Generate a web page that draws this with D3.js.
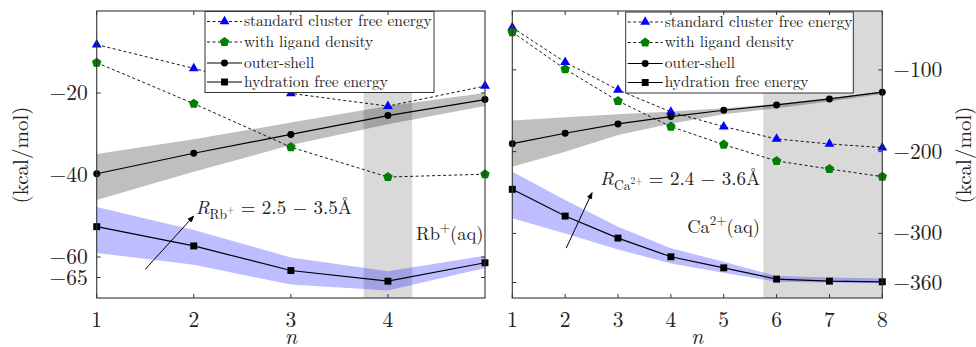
<!DOCTYPE html>
<html><head><meta charset="utf-8">
<script src="https://cdn.jsdelivr.net/npm/d3@7"></script>
<style>body{margin:0;background:#fff}svg{display:block}</style>
</head><body>
<script>
// ---------- Rb+ panel data ----------
const nRb = [1, 2, 3, 4, 5];
const rbXTicks = [1, 2, 3, 4];
const rbYTicks = [-20, -40, -60, -65];
const rbStandard = [-8.2, -14.0, -20.1, -23.2, -18.3];
const rbLigand = [-12.6, -22.6, -33.2, -40.5, -39.8];
const rbOuter = [-39.7, -34.7, -30.1, -25.5, -21.6];
const rbOuterHi = [-34.9, -31.3, -27.2, -23.2, -20.0];
const rbOuterLo = [-46.1, -39.2, -32.7, -27.6, -23.2];
const rbHydration = [-52.6, -57.3, -63.3, -65.9, -61.4];
const rbHydHi = [-47.8, -53.4, -60.1, -63.5, -59.7];
const rbHydLo = [-59.0, -61.9, -66.7, -68.2, -62.7];
const rbShade = [3.75, 4.25];

// ---------- Ca2+ panel data ----------
const nCa = [1, 2, 3, 4, 5, 6, 7, 8];
const caXTicks = [1, 2, 3, 4, 5, 6, 7, 8];
const caYTicks = [-100, -200, -300, -360];
const caStandard = [-48.2, -90.6, -124.5, -151.4, -169.4, -184.5, -190.6, -195.1];
const caLigand = [-53.8, -99.1, -138.0, -169.4, -191.4, -211.4, -221.2, -230.6];
const caOuter = [-190.2, -177.5, -166.1, -157.1, -149.4, -142.9, -135.5, -127.3];
const caOuterHi = [-162.0, -158.0, -154.3, -151.0, -147.0, -141.6, -135.0, -126.5];
const caOuterLo = [-218.4, -200.0, -179.6, -166.0, -154.3, -147.0, -138.8, -129.4];
const caHydration = [-246.1, -278.8, -305.7, -328.6, -342.1, -355.9, -358.4, -359.2];
const caHydHi = [-224.5, -259.0, -291.9, -318.3, -334.7, -352.2, -353.8, -355.0];
const caHydLo = [-281.6, -300.0, -319.6, -336.7, -348.2, -359.2, -360.0, -361.0];
const caShade = [5.75, 8];

const legendLabels = ["standard cluster free energy", "with ligand density", "outer-shell", "hydration free energy"];

const FONT = "'Latin Modern Roman'";
const svg = d3.select("body").append("svg").attr("width", 976).attr("height", 347);

function pentagon(r) {
  const pts = d3.range(5).map(i => {
    const a = -Math.PI / 2 + i * 2 * Math.PI / 5;
    return [r * Math.cos(a), r * Math.sin(a)];
  });
  return "M" + pts.map(p => p.join(",")).join("L") + "Z";
}
function markerPath(type) {
  if (type === "tri") return d3.symbol(d3.symbolTriangle, 42)();
  if (type === "pent") return pentagon(5);
  if (type === "circ") return d3.symbol(d3.symbolCircle, 38)();
  return d3.symbol(d3.symbolSquare, 48)();
}

svg.append("defs").append("marker").attr("id", "arrow")
  .attr("viewBox", "0 0 10 10").attr("refX", 9).attr("refY", 5)
  .attr("markerWidth", 7).attr("markerHeight", 7).attr("markerUnits", "userSpaceOnUse")
  .attr("orient", "auto")
  .append("path").attr("d", "M0,1 L10,5 L0,9 Z").attr("fill", "#000");

function txt(sel) { return sel.style("font-family", FONT).attr("fill", "#222"); }

function panel(cfg) {
  const x = d3.scaleLinear().domain(cfg.xDomain).range([cfg.left, cfg.right]);
  const y = d3.scaleLinear().domain(cfg.yDomain).range([cfg.bottom, cfg.top]);
  const g = svg.append("g");
  const clipId = "clip" + cfg.id;
  svg.select("defs").append("clipPath").attr("id", clipId).append("rect")
    .attr("x", cfg.left).attr("y", cfg.top).attr("width", cfg.right - cfg.left).attr("height", cfg.bottom - cfg.top);
  const pg = g.append("g").attr("clip-path", `url(#${clipId})`);

  pg.append("rect").attr("x", x(cfg.shade[0])).attr("y", cfg.top)
    .attr("width", x(cfg.shade[1]) - x(cfg.shade[0])).attr("height", cfg.bottom - cfg.top)
    .attr("fill", "#000").attr("fill-opacity", 0.15);

  const area = (hi, lo) => d3.area().x((d, i) => x(cfg.n[i])).y0((d, i) => y(lo[i])).y1((d, i) => y(hi[i]))(cfg.n);
  pg.append("path").attr("d", area(cfg.outerHi, cfg.outerLo)).attr("fill", "#000").attr("fill-opacity", 0.25);
  pg.append("path").attr("d", area(cfg.hydHi, cfg.hydLo)).attr("fill", "#0000ff").attr("fill-opacity", 0.26);

  const series = [
    {v: cfg.standard, dash: "3,2.5", m: "tri", c: "#0000ff"},
    {v: cfg.ligand, dash: "3,2.5", m: "pent", c: "#008000"},
    {v: cfg.outer, dash: null, m: "circ", c: "#000"},
    {v: cfg.hyd, dash: null, m: "sq", c: "#000"}
  ];
  const line = v => d3.line().x((d, i) => x(cfg.n[i])).y(d => y(d))(v);
  series.forEach(s => {
    pg.append("path").attr("d", line(s.v)).attr("fill", "none").attr("stroke", "#000")
      .attr("stroke-width", s.dash ? 0.9 : 1.2).attr("stroke-dasharray", s.dash);
  });
  series.forEach(s => {
    g.selectAll(null).data(s.v).enter().append("path")
      .attr("d", markerPath(s.m))
      .attr("transform", (d, i) => `translate(${x(cfg.n[i])},${y(d)})`)
      .attr("fill", s.c);
  });

  // legend
  const lg = g.append("g").attr("transform", `translate(${cfg.legX},${cfg.legY})`);
  lg.append("rect").attr("width", cfg.legW).attr("height", 81).attr("fill", "#fff").attr("stroke", "#333").attr("stroke-width", 1);
  const rowY = [10, 30.5, 51.5, 70.5];
  series.forEach((s, i) => {
    lg.append("line").attr("x1", 2).attr("x2", 37).attr("y1", rowY[i]).attr("y2", rowY[i])
      .attr("stroke", "#000").attr("stroke-width", s.dash ? 0.9 : 1.2).attr("stroke-dasharray", s.dash);
    lg.append("path").attr("d", markerPath(s.m)).attr("transform", `translate(19.5,${rowY[i]})`).attr("fill", s.c);
    txt(lg.append("text")).attr("x", 39).attr("y", rowY[i]).attr("dy", "0.3em")
      .style("font-size", "15.4px").text(legendLabels[i]);
  });

  g.append("rect").attr("x", cfg.left).attr("y", cfg.top).attr("width", cfg.right - cfg.left)
    .attr("height", cfg.bottom - cfg.top).attr("fill", "none").attr("stroke", "#333").attr("stroke-width", 1.1);

  const tl = 4;
  cfg.xTicks.forEach(t => {
    g.append("line").attr("x1", x(t)).attr("x2", x(t)).attr("y1", cfg.bottom).attr("y2", cfg.bottom - tl).attr("stroke", "#333");
    g.append("line").attr("x1", x(t)).attr("x2", x(t)).attr("y1", cfg.top).attr("y2", cfg.top + tl).attr("stroke", "#333");
    txt(g.append("text")).attr("x", x(t)).attr("y", 320).attr("dy", "0.33em").attr("text-anchor", "middle")
      .style("font-size", "21.5px").text(t);
  });
  cfg.yTicks.forEach(t => {
    g.append("line").attr("x1", cfg.left).attr("x2", cfg.left + tl).attr("y1", y(t)).attr("y2", y(t)).attr("stroke", "#333");
    g.append("line").attr("x1", cfg.right).attr("x2", cfg.right - tl).attr("y1", y(t)).attr("y2", y(t)).attr("stroke", "#333");
    const lx = cfg.yLabelSide === "left" ? cfg.left - 9 : cfg.right + 11;
    txt(g.append("text")).attr("x", lx).attr("y", y(t)).attr("dy", "0.33em")
      .attr("text-anchor", cfg.yLabelSide === "left" ? "end" : "start")
      .style("font-size", "21.5px").text("\u2212" + Math.abs(t));
  });
  txt(g.append("text")).attr("x", (cfg.left + cfg.right) / 2).attr("y", 344).attr("text-anchor", "middle")
    .style("font-size", "22px").style("font-style", "italic").text("n");
  txt(g.append("text")).attr("transform", `translate(${cfg.yTitleX},155) rotate(-90)`).attr("text-anchor", "middle")
    .attr("dy", "0.33em").style("font-size", "21px").text("(kcal/mol)");

  g.append("line").attr("x1", x(cfg.arrow[0])).attr("y1", y(cfg.arrow[1]))
    .attr("x2", x(cfg.arrow[2])).attr("y2", y(cfg.arrow[3]))
    .attr("stroke", "#000").attr("stroke-width", 1).attr("marker-end", "url(#arrow)");
  const rt = txt(g.append("text")).attr("x", x(cfg.rText[0])).attr("y", y(cfg.rText[1])).style("font-size", "19px");
  rt.append("tspan").style("font-style", "italic").text("R");
  rt.append("tspan").attr("dy", 5).style("font-size", "13.5px").text(cfg.ion);
  rt.append("tspan").attr("dy", -6).style("font-size", "9.5px").text(cfg.charge);
  rt.append("tspan").attr("dy", 1).text(" = " + cfg.range[0] + " \u2212 " + cfg.range[1] + "\u00C5");
  const aq = txt(g.append("text")).attr("x", x(cfg.aqText[0])).attr("y", y(cfg.aqText[1])).style("font-size", "18.5px");
  aq.append("tspan").text(cfg.ion);
  aq.append("tspan").attr("dy", -8).style("font-size", "13px").text(cfg.charge);
  aq.append("tspan").attr("dy", 8).text("(aq)");
}

panel({
  id: "rb", n: nRb, xDomain: [1, 5], yDomain: [-70, 0],
  left: 96.7, right: 485, top: 11, bottom: 298,
  xTicks: rbXTicks, yTicks: rbYTicks, yLabelSide: "left", yTitleX: 21,
  standard: rbStandard, ligand: rbLigand, outer: rbOuter, outerHi: rbOuterHi, outerLo: rbOuterLo,
  hyd: rbHydration, hydHi: rbHydHi, hydLo: rbHydLo, shade: rbShade,
  legX: 205, legY: 11.5, legW: 229,
  arrow: [1.5, -63, 2.0, -50], rText: [2.02, -49.6], aqText: [4.29, -55.9],
  ion: "Rb", charge: "+", range: ["2.5", "3.5"]
});
panel({
  id: "ca", n: nCa, xDomain: [1, 8], yDomain: [-379, -28],
  left: 512.3, right: 882.3, top: 11, bottom: 298,
  xTicks: caXTicks, yTicks: caYTicks, yLabelSide: "right", yTitleX: 964,
  standard: caStandard, ligand: caLigand, outer: caOuter, outerHi: caOuterHi, outerLo: caOuterLo,
  hyd: caHydration, hydHi: caHydHi, hydLo: caHydLo, shade: caShade,
  legX: 625.7, legY: 12, legW: 227.6,
  arrow: [2.02, -318, 2.51, -250], rText: [2.66, -241], aqText: [4.31, -299.5],
  ion: "Ca", charge: "2+", range: ["2.4", "3.6"]
});
</script>
</body></html>
